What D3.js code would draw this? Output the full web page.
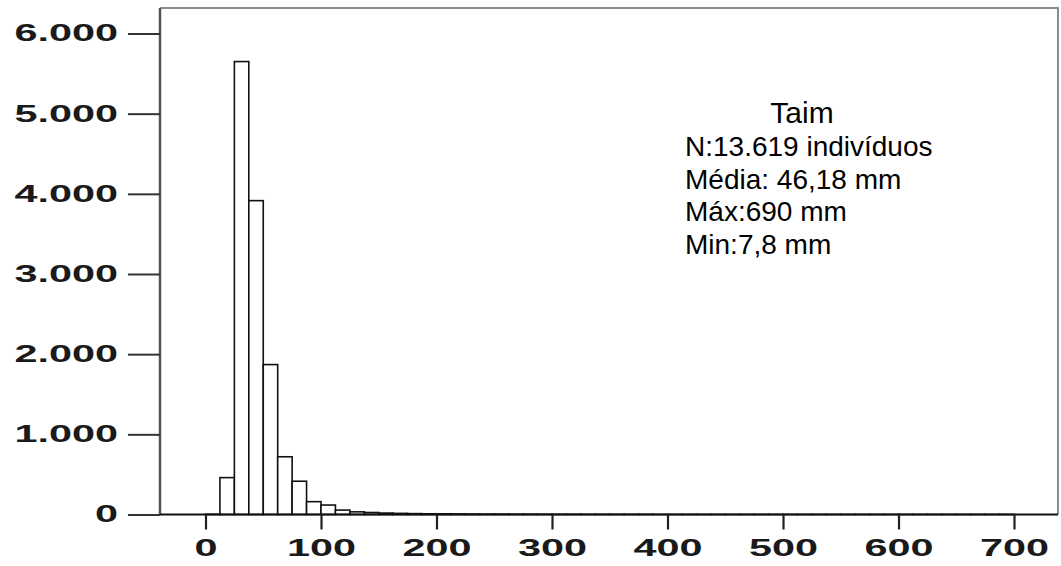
<!DOCTYPE html>
<html>
<head>
<meta charset="utf-8">
<script src="https://cdn.jsdelivr.net/npm/d3@7"></script>
<style>
  body { margin: 0; background: #fff; }
  svg { display: block; }
</style>
</head>
<body>
<div id="chart"></div>
<script>
// histogram data: bins of 12,5 mm, counts
var binWidth = 12.5;
var binStarts = d3.range(0, 700, binWidth);
var counts = [3, 460, 5650, 3915, 1870, 720, 415, 160, 118, 55, 33, 25,
  18, 14, 11, 9, 8, 7, 6, 5, 5, 4, 4, 3, 3, 3, 2, 2, 2, 2,
  2, 1, 1, 1, 1, 1, 1, 1, 1, 1, 1, 1, 1, 1, 1, 1, 1, 1, 1, 1,
  1, 1, 1, 1, 1, 1];
var xTicks = [0, 100, 200, 300, 400, 500, 600, 700];
var yTicks = [0, 1000, 2000, 3000, 4000, 5000, 6000];
var infoTitle = "Taim";
var infoLines = ["N:13.619 indivíduos", "Média: 46,18 mm", "Máx:690 mm", "Min:7,8 mm"];

var width = 1061, height = 566;
var plot = {left: 160, top: 8, right: 1058, bottom: 514.5};
var sx = 1.8; // the tick labels are stretched wide

var svg = d3.select("#chart").append("svg")
    .attr("width", width)
    .attr("height", height);

var x = d3.scaleLinear().domain([0, 700]).range([205.5, 1014]);
var y = d3.scaleLinear().domain([0, 6000]).range([plot.bottom, 33.5]);

var fmt = function(d) { return d3.format(",")(d).replace(/,/g, "."); };

// frame (top and right, light grey)
svg.append("path")
    .attr("d", "M" + plot.left + "," + plot.top + "H" + plot.right + "V" + plot.bottom)
    .attr("fill", "none")
    .attr("stroke", "#8c8c8c")
    .attr("stroke-width", 2);

// bars
var bins = binStarts.map(function(s, i) { return {x0: s, x1: s + binWidth, n: counts[i]}; });
svg.append("g")
  .selectAll("rect")
  .data(bins)
  .enter().append("rect")
    .attr("x", function(d) { return x(d.x0); })
    .attr("y", function(d) { return y(d.n); })
    .attr("width", function(d) { return x(d.x1) - x(d.x0); })
    .attr("height", function(d) { return y(0) - y(d.n); })
    .attr("fill", "#fff")
    .attr("stroke", "#111")
    .attr("stroke-width", 1.6);

// y axis
var yAxis = svg.append("g")
    .attr("transform", "translate(" + plot.left + ",0)")
    .call(d3.axisLeft(y).tickValues(yTicks).tickFormat(fmt).tickSize(32).tickPadding(10));
yAxis.select(".domain")
    .attr("d", "M0," + plot.top + "V" + plot.bottom)
    .attr("stroke", "#555")
    .attr("stroke-width", 2.5);
yAxis.selectAll(".tick line").attr("stroke", "#333").attr("stroke-width", 2);
yAxis.selectAll(".tick text")
    .attr("x", -42 / sx)
    .attr("transform", "scale(" + sx + ",1)")
    .attr("fill", "#1a1a1a")
    .style("font-family", "'Liberation Sans', Arial, sans-serif")
    .style("font-size", "23px")
    .style("font-weight", "bold");

// x axis
var xAxis = svg.append("g")
    .attr("transform", "translate(0," + plot.bottom + ")")
    .call(d3.axisBottom(x).tickValues(xTicks).tickFormat(d3.format("d")).tickSize(15).tickPadding(8));
xAxis.select(".domain")
    .attr("d", "M" + plot.left + ",0H" + plot.right)
    .attr("stroke", "#111")
    .attr("stroke-width", 2);
xAxis.selectAll(".tick line").attr("stroke", "#222").attr("stroke-width", 2.2);
xAxis.selectAll(".tick text")
    .attr("transform", "scale(" + sx + ",1)")
    .attr("y", 25)
    .attr("dy", "0.71em")
    .attr("fill", "#1a1a1a")
    .style("font-family", "'Liberation Sans', Arial, sans-serif")
    .style("font-size", "23px")
    .style("font-weight", "bold");

// info block
var info = svg.append("g")
    .style("font-family", "'Liberation Sans', Arial, sans-serif")
    .attr("fill", "#000");
info.append("text")
    .attr("x", 802)
    .attr("y", 123)
    .attr("text-anchor", "middle")
    .style("font-size", "30px")
    .text(infoTitle);
info.selectAll("text.line")
  .data(infoLines)
  .enter().append("text")
    .attr("class", "line")
    .attr("x", 685)
    .attr("y", function(d, i) { return 156 + i * 32.5; })
    .style("font-size", "28px")
    .text(function(d) { return d; });
</script>
</body>
</html>
